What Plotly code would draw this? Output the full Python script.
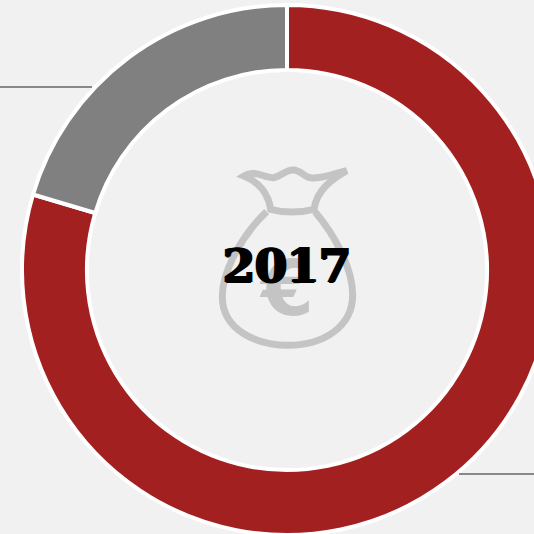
import plotly.graph_objects as go

labels = ["A", "B"]
values = [79.6, 20.4]
colors = ["#a32020", "#808080"]
center_label = "2017"

W, H = 552, 535
ML, MT = 22, 5
PW, PH = W - ML, H - MT
BG = "#f1f1f1"
ICON = "#c4c4c4"

def px(x):
    return (x - ML) / PW

def py(y):
    return 1 - (y - MT) / PH

def zp(x, y):
    return f"{px(200 + x / 3):.5f},{py(150 + y / 3):.5f}"

def path(cmds):
    out = []
    for c, pts in cmds:
        out.append(c + " " + " ".join(zp(*p) for p in pts))
    return " ".join(out)

neck = path([
    ("M", [(132, 78)]),
    ("C", [(165, 58), (195, 85), (222, 83)]),
    ("C", [(245, 78), (258, 58), (282, 60)]),
    ("C", [(305, 62), (315, 85), (338, 84)]),
    ("C", [(370, 84), (405, 70), (440, 62)]),
    ("C", [(395, 88), (350, 120), (342, 178)]),
    ("C", [(300, 188), (250, 188), (212, 178)]),
    ("C", [(205, 130), (175, 95), (132, 78)]),
    ("Z", []),
])
body = path([
    ("M", [(200, 185)]),
    ("C", [(130, 250), (67, 360), (67, 440)]),
    ("C", [(67, 540), (170, 586), (265, 586)]),
    ("C", [(370, 586), (458, 530), (458, 435)]),
    ("C", [(458, 350), (400, 250), (345, 185)]),
])

fig = go.Figure(go.Pie(
    labels=labels, values=values, hole=0.755, sort=False,
    direction="clockwise", rotation=0,
    marker=dict(colors=colors, line=dict(color="#ffffff", width=4)),
    textinfo="none", hoverinfo="label+value", showlegend=False,
))

line_style = dict(color="#888888", width=2)
fig.update_layout(
    width=W, height=H, autosize=False,
    margin=dict(l=ML, r=0, t=MT, b=0),
    paper_bgcolor=BG, plot_bgcolor=BG,
    showlegend=False,
    shapes=[
        dict(type="line", xref="paper", yref="paper", x0=px(0), x1=px(92), y0=py(87), y1=py(87), line=line_style),
        dict(type="line", xref="paper", yref="paper", x0=px(459), x1=px(552), y0=py(474), y1=py(474), line=line_style),
        dict(type="path", xref="paper", yref="paper", path=neck, line=dict(color=ICON, width=7), fillcolor="rgba(0,0,0,0)"),
        dict(type="path", xref="paper", yref="paper", path=body, line=dict(color=ICON, width=7), fillcolor="rgba(0,0,0,0)"),
    ],
    annotations=[
        dict(text="€", xref="paper", yref="paper", x=px(286), y=py(288), showarrow=False,
             font=dict(family="DejaVu Sans", size=76, color=ICON, weight="bold"),
             xanchor="center", yanchor="middle"),
        dict(text=center_label, xref="paper", yref="paper", x=px(287), y=py(266), showarrow=False,
             font=dict(family="DejaVu Serif", size=46, color="#000000", weight="bold",
                       shadow="1.5px 0 0 #000, -1.5px 0 0 #000, 0 1px 0 #000"),
             xanchor="center", yanchor="middle"),
    ],
)

fig.write_html(
    "out.html",
    config={"displayModeBar": False},
    post_script="document.documentElement.style.overflow='hidden';document.body.style.overflow='hidden';document.body.style.margin='0';document.body.style.background='#f1f1f1';",
)
